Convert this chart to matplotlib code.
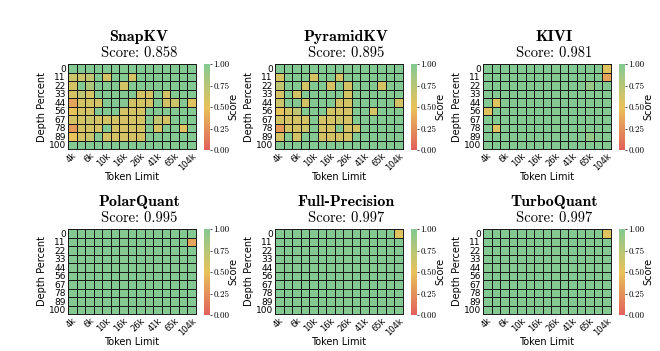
import matplotlib
matplotlib.use('Agg')

import matplotlib.pyplot as plt
import numpy as np
from matplotlib.colors import LinearSegmentedColormap

depths = [0, 11, 22, 33, 44, 56, 67, 78, 89, 100]
token_limits = ['4k', '5k', '6k', '8k', '10k', '13k', '16k', '21k', '26k', '33k', '41k', '52k', '65k', '82k', '104k']
methods = ['SnapKV', 'PyramidKV', 'KIVI', 'PolarQuant', 'Full-Precision', 'TurboQuant']
scores = [0.858, 0.895, 0.981, 0.995, 0.997, 0.997]

snapkv = [
    [1, 1, 1, 1, 1, 1, 1, 1, 1, 1, 1, 1, 1, 1, 1],
    [.65, .65, .7, 1, .6, 1, 1, .6, 1, 1, 1, 1, 1, 1, 1],
    [.6, 1, .8, 1, 1, 1, .6, 1, 1, 1, 1, 1, 1, 1, 1],
    [.6, .7, .6, 1, 1, 1, 1, 1, .6, .6, 1, .6, 1, 1, 1],
    [.35, .6, .6, .6, 1, 1, 1, .6, .6, .6, 1, .6, .65, 1, .55],
    [.5, .6, .6, 1, 1, 1, .6, .6, .6, 1, 1, 1, 1, 1, 1],
    [.6, .6, .65, .6, .6, .6, .6, .6, .6, 1, .7, .6, 1, 1, 1],
    [.3, .6, .6, .6, 1, .6, .6, .6, .6, 1, .6, 1, 1, .55, 1],
    [.5, .6, .65, 1, .6, .6, .6, .6, .6, 1, 1, 1, 1, 1, 1],
    [1, 1, 1, 1, 1, 1, 1, 1, 1, 1, 1, 1, 1, 1, 1],
]
pyramidkv = [
    [1, 1, 1, 1, 1, 1, 1, 1, 1, 1, 1, 1, 1, 1, 1],
    [.6, 1, 1, 1, .6, 1, 1, .6, 1, 1, 1, 1, 1, 1, 1],
    [.7, 1, 1, .6, 1, 1, .6, 1, .6, 1, 1, 1, .6, 1, 1],
    [.6, 1, .6, 1, 1, 1, 1, 1, .6, 1, 1, 1, 1, 1, 1],
    [.65, 1, 1, .6, 1, 1, 1, .6, .6, 1, 1, 1, 1, 1, .6],
    [.5, .6, .7, 1, 1, 1, .6, .6, .6, 1, 1, .6, 1, 1, 1],
    [.6, .6, .6, .6, 1, .6, .6, .65, .6, 1, 1, 1, 1, 1, 1],
    [.3, .6, .6, .65, 1, .6, .6, 1, .6, .6, 1, 1, 1, 1, 1],
    [.6, 1, .6, 1, 1, .6, .6, .6, .6, 1, 1, 1, 1, 1, 1],
    [1, 1, 1, 1, 1, 1, 1, 1, 1, 1, 1, 1, 1, 1, 1],
]
kivi = [
    [1, 1, 1, 1, 1, 1, 1, 1, 1, 1, 1, 1, 1, 1, .55],
    [1, 1, 1, 1, 1, 1, 1, 1, 1, 1, 1, 1, 1, 1, .35],
    [1, 1, 1, 1, 1, 1, 1, 1, 1, 1, 1, 1, .9, 1, 1],
    [1, 1, 1, 1, 1, 1, 1, 1, 1, 1, 1, 1, 1, 1, 1],
    [1, .55, 1, 1, 1, 1, 1, 1, 1, 1, 1, 1, 1, 1, 1],
    [.55, 1, 1, 1, 1, 1, 1, 1, 1, 1, 1, 1, 1, 1, 1],
    [1, 1, 1, 1, 1, 1, 1, 1, 1, 1, 1, 1, 1, 1, 1],
    [1, .55, 1, 1, 1, 1, 1, 1, 1, 1, 1, 1, 1, 1, 1],
    [1, 1, 1, 1, 1, 1, 1, 1, 1, 1, 1, 1, .92, 1, 1],
    [1, 1, 1, 1, 1, 1, 1, 1, 1, 1, 1, 1, 1, 1, 1],
]
polarquant = [
    [1, 1, 1, 1, 1, 1, 1, 1, 1, 1, 1, 1, 1, 1, 1],
    [1, 1, 1, 1, 1, 1, 1, 1, 1, 1, 1, 1, 1, 1, .35],
    [1, 1, 1, 1, 1, 1, 1, 1, 1, 1, 1, 1, 1, 1, 1],
    [1, 1, 1, 1, 1, 1, 1, 1, 1, 1, 1, 1, 1, 1, 1],
    [1, 1, 1, 1, 1, 1, 1, 1, 1, 1, 1, 1, 1, 1, 1],
    [1, 1, 1, 1, 1, 1, 1, 1, 1, 1, 1, 1, 1, 1, 1],
    [1, 1, 1, 1, 1, 1, 1, 1, 1, 1, 1, 1, 1, 1, 1],
    [1, 1, 1, 1, 1, 1, 1, 1, 1, 1, 1, 1, 1, 1, 1],
    [1, 1, 1, 1, 1, 1, 1, 1, 1, 1, 1, 1, 1, 1, 1],
    [1, 1, 1, 1, 1, 1, 1, 1, 1, 1, 1, 1, 1, 1, 1],
]
full_precision = [
    [1, 1, 1, 1, 1, 1, 1, 1, 1, 1, 1, 1, 1, 1, .55],
    [1, 1, 1, 1, 1, 1, 1, 1, 1, 1, 1, 1, 1, 1, 1],
    [1, 1, 1, 1, 1, 1, 1, 1, 1, 1, 1, 1, 1, 1, 1],
    [1, 1, 1, 1, 1, 1, 1, 1, 1, 1, 1, 1, 1, 1, 1],
    [1, 1, 1, 1, 1, 1, 1, 1, 1, 1, 1, 1, 1, 1, 1],
    [1, 1, 1, 1, 1, 1, 1, 1, 1, 1, 1, 1, 1, 1, 1],
    [1, 1, 1, 1, 1, 1, 1, 1, 1, 1, 1, 1, 1, 1, 1],
    [1, 1, 1, 1, 1, 1, 1, 1, 1, 1, 1, 1, 1, 1, 1],
    [1, 1, 1, 1, 1, 1, 1, 1, 1, 1, 1, 1, 1, 1, 1],
    [1, 1, 1, 1, 1, 1, 1, 1, 1, 1, 1, 1, 1, 1, 1],
]
turboquant = [
    [1, 1, 1, 1, 1, 1, 1, 1, 1, 1, 1, 1, 1, 1, .55],
    [1, 1, 1, 1, 1, 1, 1, 1, 1, 1, 1, 1, 1, 1, 1],
    [1, 1, 1, 1, 1, 1, 1, 1, 1, 1, 1, 1, 1, 1, 1],
    [1, 1, 1, 1, 1, 1, 1, 1, 1, 1, 1, 1, 1, 1, 1],
    [1, 1, 1, 1, 1, 1, 1, 1, 1, 1, 1, 1, 1, 1, 1],
    [1, 1, 1, 1, 1, 1, 1, 1, 1, 1, 1, 1, 1, 1, 1],
    [1, 1, 1, 1, 1, 1, 1, 1, 1, 1, 1, 1, 1, 1, 1],
    [1, 1, 1, 1, 1, 1, 1, 1, 1, 1, 1, 1, 1, 1, 1],
    [1, 1, 1, 1, 1, 1, 1, 1, 1, 1, 1, 1, 1, 1, 1],
    [1, 1, 1, 1, 1, 1, 1, 1, 1, 1, 1, 1, 1, 1, 1],
]
grids = [snapkv, pyramidkv, kivi, polarquant, full_precision, turboquant]

plt.rcParams['axes.formatter.use_mathtext'] = True
cmap = LinearSegmentedColormap.from_list('nih', ['#E0605A', '#E8C25A', '#84C992'])

W, H = 660, 351
fig = plt.figure(figsize=(6.6, 3.51), dpi=100)

# pixel boxes of heatmaps (left, top)
lefts = [68, 275, 483]
tops = [64, 229]
hw, hh = 128, 85

for i, (name, sc, grid) in enumerate(zip(methods, scores, grids)):
    r, c = divmod(i, 3)
    x0, y0 = lefts[c], tops[r]
    ax = fig.add_axes([x0 / W, 1 - (y0 + hh) / H, hw / W, hh / H])
    data = np.array(grid)
    mesh = ax.pcolormesh(np.arange(len(token_limits) + 1), np.arange(len(depths) + 1), data,
                         cmap=cmap, vmin=0, vmax=1, edgecolors='#1a1a1a', linewidth=0.6)
    ax.set_xlim(0, len(token_limits))
    ax.set_ylim(len(depths), 0)
    ax.set_xticks(np.arange(0, len(token_limits), 2) + 0.5)
    ax.set_xticklabels(token_limits[::2], rotation=45, ha='right', rotation_mode='anchor', fontsize=6)
    ax.set_yticks(np.arange(len(depths)) + 0.5)
    ax.set_yticklabels(depths, fontsize=6.5)
    ax.tick_params(length=0, pad=1.5)
    for s in ax.spines.values():
        s.set_linewidth(0.7)
        s.set_color('#1a1a1a')
    ax.set_ylabel('Depth Percent', fontsize=7, labelpad=1)
    ax.set_xlabel('Token Limit', fontsize=7, labelpad=0)

    cx = x0 + hw + 8
    cax = fig.add_axes([cx / W, 1 - (y0 + hh + 1) / H, 6 / W, (hh + 1) / H])
    cb = fig.colorbar(mesh, cax=cax, ticks=[0, 0.25, 0.5, 0.75, 1.0])
    cb.outline.set_visible(False)
    cb.ax.set_yticklabels(['0.00', '0.25', '0.50', '0.75', '1.00'], fontfamily='cmr10', fontsize=6.5)
    cb.ax.tick_params(length=1.5, width=0.5, pad=1)
    fig.text((cx + 29) / W, 1 - (y0 + hh / 2) / H, 'Score', fontsize=7, rotation=90,
             ha='center', va='center')

    tx = (x0 + cx + 6) / 2 / W
    fig.text(tx, 1 - (y0 - 27) / H, name, fontfamily='cmb10', fontsize=11.5, ha='center', va='center')
    fig.text(tx, 1 - (y0 - 11) / H, 'Score: %.3f' % sc, fontfamily='cmr10', fontsize=10.5, ha='center', va='center')

plt.savefig('out.png', dpi=100)
